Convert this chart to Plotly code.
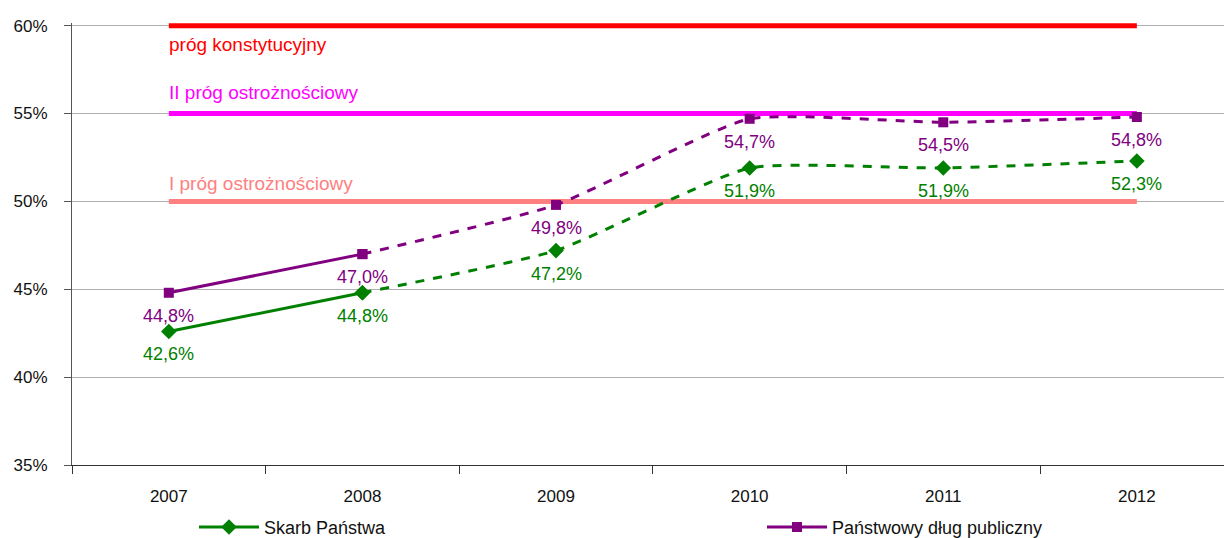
import plotly.graph_objects as go

# Data
years = ["2007", "2008", "2009", "2010", "2011", "2012"]
skarb_panstwa = [42.6, 44.8, 47.2, 51.9, 51.9, 52.3]
dlug_publiczny = [44.8, 47.0, 49.8, 54.7, 54.5, 54.8]
threshold_values = [60, 55, 50]
threshold_names = ["próg konstytucyjny", "II próg ostrożnościowy", "I próg ostrożnościowy"]
threshold_colors = ["#FF0000", "#FF00FF", "#FF8080"]
threshold_label_shift = [-19, 21, 18]
y_ticks = [35, 40, 45, 50, 55, 60]
y_tick_text = ["35%", "40%", "45%", "50%", "55%", "60%"]

FONT = "Liberation Sans, Arial, sans-serif"
GREEN = "#008000"
PURPLE = "#800080"
N_ACTUAL = 2  # first two years are actual values, the rest are forecasts


def pct(v):
    return f"{v:.1f}%".replace(".", ",")


fig = go.Figure()

# Threshold lines spanning the whole period
for val, name, col in zip(threshold_values, threshold_names, threshold_colors):
    fig.add_trace(go.Scatter(
        x=[years[0], years[-1]], y=[val, val], mode="lines",
        line=dict(color=col, width=5), showlegend=False, hoverinfo="skip"))

series = [
    ("Skarb Państwa", skarb_panstwa, GREEN, "diamond", 12, "legend"),
    ("Państwowy dług publiczny", dlug_publiczny, PURPLE, "square", 10, "legend2"),
]

for name, vals, col, sym, msize, leg in series:
    # forecast part: dashed, smoothed
    fig.add_trace(go.Scatter(
        x=years[N_ACTUAL - 1:], y=vals[N_ACTUAL - 1:], mode="lines+markers",
        line=dict(color=col, width=3, dash="dash", shape="spline", smoothing=0.5),
        marker=dict(symbol=sym, size=msize, color=col),
        showlegend=False, cliponaxis=False))
    # actual part: solid
    fig.add_trace(go.Scatter(
        x=years[:N_ACTUAL], y=vals[:N_ACTUAL], mode="lines+markers",
        name=name, legend=leg,
        line=dict(color=col, width=3),
        marker=dict(symbol=sym, size=msize, color=col),
        cliponaxis=False))
    # value labels under each point
    for i, v in enumerate(vals):
        fig.add_annotation(
            x=i, y=v, xref="x", yref="y", text=pct(v), showarrow=False,
            xanchor="center", yanchor="middle", yshift=-23,
            font=dict(family=FONT, size=18, color=col))

for val, name, col, shift in zip(threshold_values, threshold_names, threshold_colors, threshold_label_shift):
    fig.add_annotation(
        x=0, y=val, xref="x", yref="y", text=name, showarrow=False,
        xanchor="left", yanchor="middle", yshift=shift, xshift=-2,
        font=dict(family=FONT, size=19, color=col))

legend_style = dict(
    orientation="h", xref="container", yref="container",
    y=0.02, xanchor="left", yanchor="middle", itemwidth=60,
    font=dict(family=FONT, size=18, color="#111111"),
    bgcolor="rgba(0,0,0,0)")

fig.update_layout(
    width=1224, height=538,
    margin=dict(l=72, r=0, t=23, b=73),
    paper_bgcolor="white", plot_bgcolor="white",
    font=dict(family=FONT, size=17, color="#111111"),
    legend=dict(x=194 / 1224, **legend_style),
    legend2=dict(x=762 / 1224, **legend_style),
    xaxis=dict(
        type="category", categoryorder="array", categoryarray=years,
        range=[-0.5, 5.45],
        tickson="boundaries", ticks="outside", ticklen=8, tickcolor="#333333",
        showgrid=False, showline=True, linecolor="#333333", linewidth=1,
        ticklabelstandoff=16,
        tickfont=dict(family=FONT, size=17, color="#111111")),
    yaxis=dict(
        range=[35, 60.15], tickmode="array", tickvals=y_ticks, ticktext=y_tick_text,
        ticks="outside", ticklen=7, tickcolor="#555555",
        showgrid=True, gridcolor="#B0B0B0", gridwidth=1,
        showline=True, linecolor="#555555", linewidth=1, zeroline=False,
        ticklabelstandoff=13,
        tickfont=dict(family=FONT, size=17, color="#111111")),
)

fig.write_html("out.html")
